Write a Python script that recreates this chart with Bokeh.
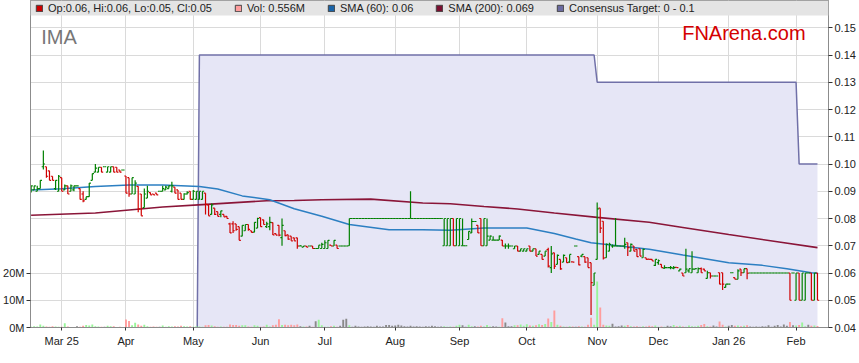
import numpy as np
import pandas as pd
from bokeh.plotting import figure
from bokeh.models import (ColumnDataSource, Range1d, LinearAxis, FixedTicker,
                          NumeralTickFormatter, CustomJSTickFormatter, BoxAnnotation,
                          Legend, LegendItem, Label)
from bokeh.embed import file_html
from bokeh.resources import INLINE

# ---------------- data ----------------
first_day = "2025-02-17"
ticker_name = "IMA"

open_ = [
    0.090, 0.0905, 0.090, 0.091, 0.099, 0.099, 0.0975, 0.0955, 0.091, 0.090,
    0.095, 0.0905, 0.092, 0.090, 0.0905, 0.092, 0.091, 0.089, 0.087, 0.088,
    0.094, 0.097, 0.097, 0.0988, 0.099, 0.097, 0.097, 0.099, 0.0988, 0.0978,
    0.0978, 0.0956, 0.095, 0.089, 0.089, 0.0918, 0.089, 0.084, 0.0875, 0.0895,
    0.089, 0.0893, 0.090, 0.090, 0.0905, 0.091, 0.090, 0.0915, 0.0905, 0.0893,
    0.087, 0.089, 0.090, 0.087, 0.087, 0.087, 0.087, 0.0893, 0.085, 0.0815,
    0.0838, 0.0825, 0.0815, 0.0815, 0.0808, 0.078, 0.078, 0.078, 0.077, 0.0735,
    0.0755, 0.0778, 0.0755, 0.075, 0.0765, 0.0803, 0.0795, 0.077, 0.077, 0.0785,
    0.0745, 0.0775, 0.073, 0.0755, 0.074, 0.0735, 0.0729, 0.0729, 0.0699, 0.0695,
    0.0699, 0.0699, 0.0699, 0.069, 0.069, 0.069, 0.069, 0.069, 0.0702, 0.0699,
    0.0702, 0.0699, 0.0699, 0.0699, 0.070, 0.080, 0.080, 0.080, 0.080, 0.080,
    0.080, 0.080, 0.080, 0.080, 0.080, 0.080, 0.080, 0.080, 0.080, 0.080,
    0.080, 0.080, 0.080, 0.080, 0.080, 0.080, 0.080, 0.080, 0.080, 0.080,
    0.080, 0.080, 0.080, 0.080, 0.080, 0.070, 0.070, 0.070, 0.080, 0.070,
    0.070, 0.070, 0.070, 0.0723, 0.0747, 0.0789, 0.0775, 0.080, 0.070, 0.070,
    0.0721, 0.0721, 0.0721, 0.0721, 0.0721, 0.0699, 0.0699, 0.0699, 0.0689, 0.0699,
    0.068, 0.068, 0.068, 0.0699, 0.068, 0.0689, 0.0668, 0.0668, 0.0662, 0.0686,
    0.062, 0.0674, 0.0632, 0.065, 0.064, 0.0656, 0.064, 0.0641, 0.0699, 0.066,
    0.0662, 0.066, 0.0656, 0.0638, 0.0555, 0.065, 0.0838, 0.079, 0.0656, 0.068,
    0.0699, 0.0699, 0.0699, 0.0699, 0.0699, 0.0711, 0.068, 0.0699, 0.0687, 0.0689,
    0.0656, 0.0656, 0.0651, 0.065, 0.0628, 0.0638, 0.0632, 0.0618, 0.062, 0.062,
    0.0618, 0.0621, 0.0608, 0.060, 0.0601, 0.0608, 0.0601, 0.0614, 0.0601, 0.0616,
    0.0614, 0.058, 0.0601, 0.0589, 0.0589, 0.0601, 0.0601, 0.0547, 0.0559, 0.0601,
    0.0583, 0.0577, 0.0614, 0.0601, 0.0616, 0.060, 0.060, 0.060, 0.060, 0.060,
    0.060, 0.060, 0.060, 0.060, 0.060, 0.060, 0.060, 0.060, 0.060, 0.060,
    0.050, 0.060, 0.050, 0.050, 0.060, 0.060, 0.050, 0.060,
]
high = [
    0.092, 0.092, 0.092, 0.094, 0.105, 0.099, 0.0975, 0.0955, 0.094, 0.096,
    0.095, 0.0925, 0.092, 0.0925, 0.092, 0.092, 0.091, 0.090, 0.088, 0.093,
    0.0965, 0.100, 0.0988, 0.0988, 0.099, 0.099, 0.099, 0.099, 0.0988, 0.0978,
    0.0978, 0.0956, 0.095, 0.095, 0.094, 0.0918, 0.089, 0.091, 0.092, 0.0895,
    0.089, 0.0893, 0.090, 0.092, 0.092, 0.092, 0.0935, 0.0915, 0.0905, 0.0893,
    0.0893, 0.090, 0.090, 0.0905, 0.090, 0.090, 0.090, 0.0893, 0.085, 0.0855,
    0.0838, 0.0825, 0.0828, 0.0815, 0.0808, 0.0784, 0.079, 0.078, 0.077, 0.0775,
    0.0778, 0.0778, 0.0755, 0.0786, 0.0803, 0.0803, 0.0795, 0.0788, 0.0806, 0.0785,
    0.0745, 0.0775, 0.080, 0.0755, 0.074, 0.0735, 0.0729, 0.0729, 0.0702, 0.0699,
    0.0699, 0.0699, 0.0699, 0.069, 0.0702, 0.0711, 0.072, 0.072, 0.0702, 0.072,
    0.0702, 0.0699, 0.0699, 0.0699, 0.080, 0.080, 0.080, 0.080, 0.080, 0.080,
    0.080, 0.080, 0.080, 0.080, 0.080, 0.080, 0.080, 0.080, 0.080, 0.080,
    0.080, 0.080, 0.080, 0.080, 0.090, 0.080, 0.080, 0.080, 0.080, 0.080,
    0.080, 0.080, 0.080, 0.080, 0.080, 0.080, 0.080, 0.080, 0.080, 0.080,
    0.080, 0.080, 0.070, 0.0753, 0.080, 0.0789, 0.0775, 0.080, 0.080, 0.080,
    0.0738, 0.0735, 0.0721, 0.0738, 0.0721, 0.0708, 0.0708, 0.0699, 0.0699, 0.0699,
    0.0689, 0.0689, 0.0689, 0.0699, 0.0689, 0.0689, 0.068, 0.0668, 0.068, 0.0693,
    0.0699, 0.0674, 0.0668, 0.065, 0.0668, 0.0656, 0.0668, 0.0641, 0.0699, 0.066,
    0.0668, 0.066, 0.0656, 0.0638, 0.060, 0.0859, 0.0838, 0.079, 0.0708, 0.0711,
    0.0705, 0.0802, 0.0699, 0.0699, 0.0729, 0.0711, 0.0708, 0.0699, 0.0687, 0.0689,
    0.0689, 0.0656, 0.0651, 0.065, 0.065, 0.065, 0.0632, 0.0628, 0.062, 0.0626,
    0.0626, 0.0621, 0.0616, 0.060, 0.0689, 0.0616, 0.068, 0.0616, 0.062, 0.062,
    0.0616, 0.0608, 0.0601, 0.0589, 0.0589, 0.0601, 0.0601, 0.0559, 0.0559, 0.0601,
    0.0583, 0.0614, 0.0614, 0.0616, 0.0616, 0.060, 0.060, 0.060, 0.060, 0.060,
    0.060, 0.060, 0.060, 0.060, 0.060, 0.060, 0.060, 0.060, 0.060, 0.060,
    0.060, 0.060, 0.060, 0.060, 0.060, 0.060, 0.060, 0.060,
]
low = [
    0.0895, 0.0905, 0.090, 0.091, 0.098, 0.095, 0.094, 0.094, 0.0905, 0.090,
    0.090, 0.0905, 0.089, 0.090, 0.090, 0.092, 0.087, 0.086, 0.087, 0.088,
    0.094, 0.097, 0.097, 0.097, 0.099, 0.097, 0.097, 0.097, 0.097, 0.097,
    0.0978, 0.0893, 0.088, 0.089, 0.089, 0.0823, 0.081, 0.084, 0.0875, 0.0887,
    0.0887, 0.0887, 0.090, 0.090, 0.0905, 0.091, 0.0895, 0.0893, 0.087, 0.087,
    0.087, 0.0888, 0.087, 0.087, 0.087, 0.087, 0.087, 0.0815, 0.081, 0.0815,
    0.0813, 0.0808, 0.0805, 0.0806, 0.080, 0.0747, 0.0747, 0.0755, 0.072, 0.0735,
    0.0755, 0.0755, 0.0749, 0.075, 0.0765, 0.077, 0.0778, 0.0765, 0.0757, 0.0739,
    0.0739, 0.0735, 0.070, 0.0735, 0.0722, 0.0718, 0.0718, 0.0689, 0.0699, 0.0695,
    0.0695, 0.0699, 0.069, 0.069, 0.069, 0.069, 0.069, 0.069, 0.0699, 0.0699,
    0.069, 0.0699, 0.0699, 0.0699, 0.070, 0.080, 0.080, 0.080, 0.080, 0.080,
    0.080, 0.080, 0.080, 0.080, 0.080, 0.080, 0.080, 0.080, 0.080, 0.080,
    0.080, 0.080, 0.080, 0.080, 0.080, 0.080, 0.080, 0.080, 0.080, 0.080,
    0.080, 0.080, 0.080, 0.080, 0.080, 0.070, 0.070, 0.070, 0.070, 0.070,
    0.070, 0.070, 0.070, 0.0723, 0.0747, 0.0789, 0.0747, 0.070, 0.070, 0.070,
    0.0721, 0.0721, 0.0721, 0.0721, 0.0699, 0.0689, 0.0689, 0.0699, 0.0689, 0.068,
    0.068, 0.068, 0.068, 0.068, 0.068, 0.0662, 0.0668, 0.065, 0.0662, 0.062,
    0.060, 0.0615, 0.0632, 0.0612, 0.064, 0.0638, 0.0638, 0.064, 0.0699, 0.0628,
    0.0658, 0.0638, 0.062, 0.0446, 0.0555, 0.065, 0.0747, 0.065, 0.0656, 0.068,
    0.0693, 0.0699, 0.0699, 0.0699, 0.0689, 0.0662, 0.068, 0.068, 0.066, 0.0662,
    0.0656, 0.065, 0.065, 0.0644, 0.0626, 0.063, 0.062, 0.0616, 0.062, 0.0614,
    0.0614, 0.062, 0.0608, 0.0589, 0.0601, 0.0601, 0.0601, 0.0614, 0.0601, 0.0601,
    0.0608, 0.058, 0.058, 0.0589, 0.0589, 0.0559, 0.0538, 0.0547, 0.0559, 0.0601,
    0.0577, 0.0577, 0.0589, 0.0601, 0.0577, 0.060, 0.060, 0.060, 0.060, 0.060,
    0.060, 0.060, 0.060, 0.060, 0.060, 0.060, 0.060, 0.060, 0.050, 0.060,
    0.050, 0.050, 0.050, 0.050, 0.060, 0.050, 0.050, 0.050,
]
close = [
    0.092, 0.092, 0.091, 0.094, 0.100, 0.0955, 0.094, 0.094, 0.094, 0.0955,
    0.090, 0.092, 0.089, 0.092, 0.092, 0.092, 0.087, 0.0865, 0.088, 0.093,
    0.0965, 0.0985, 0.0988, 0.097, 0.099, 0.099, 0.099, 0.097, 0.097, 0.097,
    0.0978, 0.0893, 0.089, 0.095, 0.093, 0.0835, 0.081, 0.089, 0.090, 0.0887,
    0.0887, 0.0887, 0.090, 0.091, 0.0915, 0.092, 0.092, 0.0893, 0.087, 0.087,
    0.089, 0.0895, 0.087, 0.090, 0.090, 0.090, 0.090, 0.0852, 0.081, 0.085,
    0.0815, 0.0808, 0.0828, 0.0806, 0.080, 0.0747, 0.0755, 0.076, 0.072, 0.0775,
    0.0778, 0.076, 0.0749, 0.0786, 0.080, 0.077, 0.0778, 0.078, 0.0786, 0.074,
    0.0739, 0.0739, 0.0775, 0.0737, 0.0724, 0.0718, 0.0718, 0.0699, 0.0699, 0.0699,
    0.0695, 0.0699, 0.069, 0.069, 0.0702, 0.0705, 0.0711, 0.072, 0.0699, 0.072,
    0.069, 0.0699, 0.0699, 0.0699, 0.080, 0.080, 0.080, 0.080, 0.080, 0.080,
    0.080, 0.080, 0.080, 0.080, 0.080, 0.080, 0.080, 0.080, 0.080, 0.080,
    0.080, 0.080, 0.080, 0.080, 0.080, 0.080, 0.080, 0.080, 0.080, 0.080,
    0.080, 0.080, 0.080, 0.080, 0.080, 0.080, 0.080, 0.080, 0.070, 0.080,
    0.080, 0.070, 0.070, 0.0753, 0.0789, 0.0789, 0.0747, 0.070, 0.080, 0.0735,
    0.0735, 0.0721, 0.0721, 0.0735, 0.0699, 0.0699, 0.0699, 0.0699, 0.0699, 0.068,
    0.0689, 0.0689, 0.0689, 0.068, 0.0689, 0.0662, 0.068, 0.065, 0.068, 0.0625,
    0.067, 0.0625, 0.0665, 0.0615, 0.0665, 0.0638, 0.0668, 0.064, 0.0699, 0.063,
    0.0668, 0.064, 0.062, 0.0565, 0.060, 0.0835, 0.0765, 0.0655, 0.0705, 0.0705,
    0.0699, 0.0699, 0.0699, 0.0699, 0.0705, 0.0693, 0.0705, 0.068, 0.066, 0.0662,
    0.0687, 0.065, 0.065, 0.0644, 0.065, 0.0645, 0.062, 0.062, 0.062, 0.062,
    0.062, 0.062, 0.0614, 0.0589, 0.0614, 0.0616, 0.0614, 0.0616, 0.0616, 0.0601,
    0.0608, 0.0601, 0.0589, 0.0589, 0.0589, 0.0559, 0.0559, 0.0559, 0.0559, 0.0601,
    0.0577, 0.0608, 0.0601, 0.0616, 0.0599, 0.060, 0.060, 0.060, 0.060, 0.060,
    0.060, 0.060, 0.060, 0.060, 0.060, 0.060, 0.060, 0.060, 0.050, 0.060,
    0.060, 0.050, 0.060, 0.060, 0.060, 0.050, 0.060, 0.050,
]
volume_m = [
    0.3, 0.5, 0.4, 1.1, 0.6, 0.4, 0.3, 0.5, 0.4, 0.3,
    0.3, 1.6, 0.4, 0.2, 0.2, 0.5, 0.3, 0.6, 0.9, 0.7,
    1.1, 0.5, 0.4, 0.3, 0.3, 0.6, 0.5, 0.5, 0.2, 0.3,
    0.2, 2.9, 2.4, 0.8, 1.7, 1.1, 0.6, 1.0, 0.5, 0.3,
    0.4, 0.3, 0.3, 0.7, 0.3, 0.5, 0.4, 0.5, 0.4, 0.6,
    0.5, 0.4, 0.5, 0.3, 0.5, 0.4, 0.3, 0.8, 0.9, 0.7,
    0.5, 0.3, 0.4, 0.3, 0.3, 1.1, 0.9, 0.9, 0.6, 0.8,
    0.8, 0.4, 0.3, 0.8, 0.6, 0.3, 0.4, 1.0, 0.4, 0.8,
    1.0, 3.0, 0.9, 1.0, 0.8, 1.0, 0.8, 1.1, 0.5, 0.4,
    0.4, 0.6, 0.3, 2.3, 2.8, 0.8, 0.3, 0.3, 0.5, 0.6,
    0.3, 0.6, 2.8, 3.2, 0.8, 0.3, 0.6, 0.4, 0.3, 0.4,
    0.5, 0.4, 0.3, 0.6, 0.4, 0.4, 0.9, 0.9, 0.6, 0.7,
    1.0, 0.7, 0.5, 0.4, 0.6, 0.4, 0.5, 0.4, 0.3, 0.5,
    0.4, 0.6, 0.5, 0.3, 0.4, 0.5, 0.3, 0.4, 0.3, 0.6,
    1.0, 0.8, 0.3, 1.0, 0.5, 0.5, 0.4, 0.6, 0.4, 0.9,
    0.4, 0.5, 0.4, 0.3, 3.4, 1.8, 0.5, 0.5, 0.8, 0.8,
    1.1, 0.6, 1.2, 0.7, 0.6, 0.8, 1.2, 0.9, 1.3, 3.3,
    2.0, 6.2, 1.0, 0.6, 0.4, 0.3, 0.5, 0.4, 0.3, 0.5,
    0.4, 0.3, 1.0, 3.6, 1.0, 16.9, 7.3, 1.0, 0.7, 0.6,
    1.4, 0.4, 0.5, 0.7, 0.6, 0.9, 0.5, 0.4, 0.5, 0.3,
    0.5, 0.4, 0.6, 0.5, 0.7, 0.3, 0.4, 0.3, 0.6, 0.5,
    0.9, 0.5, 0.6, 0.4, 0.3, 0.7, 0.5, 0.4, 0.6, 0.9,
    1.3, 0.5, 0.4, 0.7, 0.4, 2.2, 1.0, 0.4, 0.6, 0.9,
    0.6, 0.7, 0.5, 0.6, 0.8, 0.4, 0.3, 0.4, 0.3, 0.5,
    0.4, 0.8, 0.3, 0.6, 0.9, 0.4, 1.1, 0.6, 2.0, 0.8,
    0.7, 0.9, 1.8, 0.5, 1.0, 0.6, 0.7, 0.556,
]

# moving averages (trading-day number, value)
sma60_day = [0, 10, 21, 32, 43, 55, 61, 69, 78, 86, 95, 104, 117, 128, 137, 148,
             162, 171, 178, 183, 191, 202, 213, 228, 239, 247, 255, 257]
sma60 = [0.0905, 0.0909, 0.0917, 0.0923, 0.0923, 0.0917, 0.0908, 0.0883, 0.0869,
         0.0836, 0.0808, 0.0778, 0.0759, 0.0759, 0.0757, 0.0765, 0.0765, 0.0745,
         0.0725, 0.0711, 0.0701, 0.0687, 0.0666, 0.0638, 0.0628, 0.0616, 0.0601, 0.0599]
sma200_day = [0, 21, 43, 56, 77, 86, 95, 111, 128, 137, 148, 159, 171, 185, 202,
              213, 228, 245, 257]
sma200 = [0.0812, 0.082, 0.0842, 0.0851, 0.0865, 0.0866, 0.0869, 0.0871, 0.0857,
          0.0854, 0.0844, 0.0835, 0.082, 0.0804, 0.0786, 0.0767, 0.0741, 0.0713, 0.0693]

# consensus target steps (trading-day number, value)
target_day = [54, 55, 184, 185, 250, 251, 257]
target = [0.0, 0.14, 0.14, 0.13, 0.13, 0.10, 0.10]

price_ticks = [0.04, 0.05, 0.06, 0.07, 0.08, 0.09, 0.10, 0.11, 0.12, 0.13, 0.14, 0.15]
volume_ticks_m = [0, 10, 20]

# ---------------- build ----------------
n = len(close)
assert len(open_) == n and len(high) == n and len(low) == n and len(volume_m) == n, \
    (len(open_), len(high), len(low), len(close), len(volume_m))

days = pd.bdate_range(first_day, periods=n)
x = np.arange(n)
o = np.array(open_); h = np.array(high); l = np.array(low); c = np.array(close)

GREEN, RED = "#008000", "#d00000"
bar_color = np.where(c >= o, GREEN, RED)
vol_color = np.where(c > o, "#99f599", np.where(c < o, "#ff9d9d", "#8a8a8a"))
half = 0.55

src = ColumnDataSource(dict(x=x, xl=x - half, xr=x + half, o=o, h=h, l=l, c=c,
                            col=bar_color, vol=np.array(volume_m) * 1e6, vcol=vol_color))

month_ticks = [i for i in range(1, n) if days[i].month != days[i - 1].month]
overrides = {}
for k, i in enumerate(month_ticks):
    d = days[i]
    overrides[i] = d.strftime("%b %y") if (k == 0 or d.month == 1) else d.strftime("%b")

FW, FH = 798, 327
Y0, Y1 = 0.04, 0.16
p = figure(frame_width=FW, frame_height=FH,
           x_range=Range1d(-0.2, 260.6), y_range=Range1d(Y0, Y1),
           y_axis_location="right", output_backend="svg", toolbar_location=None,
           min_border_left=0, min_border_right=0, min_border_top=0, min_border_bottom=0,
           outline_line_color="#8c8c8c", background_fill_color="#ffffff",
           border_fill_color="#ffffff")

p.extra_y_ranges = {"vol": Range1d(0, (Y1 - Y0) * 1e9)}

ya = p.yaxis[0]
ya.ticker = FixedTicker(ticks=price_ticks)
ya.formatter = NumeralTickFormatter(format="0.00")

va = LinearAxis(y_range_name="vol", ticker=FixedTicker(ticks=[v * 1e6 for v in volume_ticks_m]),
                formatter=CustomJSTickFormatter(code="return (tick/1e6).toFixed(0) + 'M';"))
p.add_layout(va, "left")

p.xaxis.ticker = FixedTicker(ticks=month_ticks)
p.xaxis.major_label_overrides = overrides

for ax in p.axis:
    ax.axis_line_color = "#8c8c8c"
    ax.major_tick_line_color = "#333333"
    ax.major_tick_out = 4
    ax.major_tick_in = 0
    ax.minor_tick_line_color = None
    ax.major_label_text_font = "Liberation Sans"
    ax.major_label_text_font_size = "11px"
    ax.major_label_text_color = "#222222"
    ax.major_label_standoff = 2
p.xaxis.major_tick_out = 3
p.xaxis.major_label_standoff = 4

p.xgrid.ticker = FixedTicker(ticks=month_ticks)
p.ygrid.ticker = FixedTicker(ticks=price_ticks)
p.grid.grid_line_color = "#dadada"

# consensus target shading and line
p.varea(x=target_day, y1=0, y2=target, fill_color="#e6e6f6")
p.line(target_day, target, line_color="#7070a8", line_width=1.5)

# volume
p.vbar(x="x", top="vol", bottom=0, width=0.62, fill_color="vcol", line_color=None,
       y_range_name="vol", source=src)

# moving averages
p.line(sma200_day, sma200, line_color="#8a1538", line_width=1.6)
p.line(sma60_day, sma60, line_color="#2c7fc2", line_width=1.5)

# OHLC bars
p.segment(x0="x", y0="l", x1="x", y1="h", line_color="col", line_width=1.2, source=src)
p.segment(x0="xl", y0="o", x1="x", y1="o", line_color="col", line_width=1.2, source=src)
p.segment(x0="x", y0="c", x1="xr", y1="c", line_color="col", line_width=1.2, source=src)

# header band + legend
band_px = 15
band = BoxAnnotation(bottom=Y1 - band_px * (Y1 - Y0) / FH, fill_color="#e4e4e4",
                     fill_alpha=1, line_alpha=0)
p.add_layout(band)


def swatch(color):
    # legend-only renderer: a single undrawable (NaN) quad carrying the colour
    nan = np.array([np.nan])
    return p.quad(left=nan, right=nan, top=nan, bottom=nan,
                  fill_color=color, line_color="#444444")


def short(v):
    return f"{round(v, 3):g}"


items = [
    LegendItem(label=f"Op:{o[-1]:.2f}, Hi:{h[-1]:.2f}, Lo:{l[-1]:.2f}, Cl:{c[-1]:.2f}",
               renderers=[swatch("#cc0000")]),
    LegendItem(label=f"Vol: {volume_m[-1]:.3f}M", renderers=[swatch("#ff9d9d")]),
    LegendItem(label=f"SMA (60): {short(sma60[-1])}", renderers=[swatch("#1a64a8")]),
    LegendItem(label=f"SMA (200): {short(sma200[-1])}", renderers=[swatch("#7a0f30")]),
    LegendItem(label=f"Consensus Target: {target[0]:g} - {target[-1]:g}",
               renderers=[swatch("#6a6aa0")]),
]
legend = Legend(items=items, orientation="horizontal", location=(4, FH - band_px),
                padding=1, margin=0, spacing=22, label_standoff=5,
                glyph_width=8, glyph_height=8, label_height=9,
                label_text_font="Liberation Sans", label_text_font_size="11px",
                label_text_color="#222222", background_fill_alpha=0, border_line_alpha=0)
p.add_layout(legend)

p.add_layout(Label(x=3.3, y=0.1466, text=ticker_name, text_font="Liberation Sans",
                   text_font_size="20px", text_color="#777777", text_baseline="alphabetic"))
p.add_layout(Label(x=253.1, y=0.1482, text="FNArena.com", text_font="Liberation Sans",
                   text_font_size="20px", text_color="#d40000", text_align="right",
                   text_baseline="alphabetic"))

open("out.html", "w").write(file_html(p, INLINE))
